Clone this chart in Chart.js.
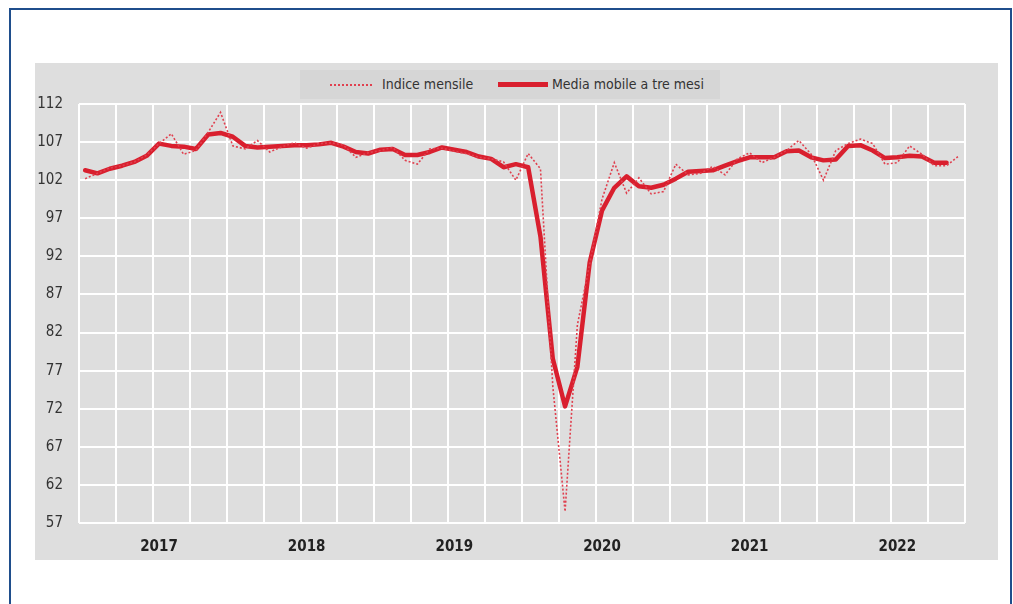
<!DOCTYPE html>
<html>
<head>
<meta charset="utf-8">
<script src="https://cdn.jsdelivr.net/npm/chart.js@4.4.1/dist/chart.umd.min.js"></script>
<style>
  html, body { margin: 0; padding: 0; background: #ffffff; width: 1013px; height: 604px; overflow: hidden; }
  #frame { position: absolute; left: 9px; top: 8px; width: 999px; height: 620px; border: 2px solid #1f4e8c; }
  #panel { position: absolute; left: 35px; top: 63px; width: 963px; height: 497px; background: #dedede; }
  #legend { position: absolute; left: 300px; top: 70px; width: 420px; height: 29px; background: #d6d6d6;
            font-family: 'DejaVu Sans Condensed', 'Liberation Sans', sans-serif;
            font-size: 14px; color: #333333; }
  .item { position: absolute; top: 0; height: 29px; line-height: 29px; white-space: nowrap; }
  .sample { position: absolute; }
</style>
</head>
<body>
<div id="frame"></div>
<div id="panel"><canvas id="c"></canvas></div>
<div id="legend">
  <div class="sample" style="left:30px; top:14px; width:42px; border-top:2px dotted #e0404f;"></div>
  <div class="item" style="left:82px;">Indice mensile</div>
  <div class="sample" style="left:198px; top:12px; width:50px; border-top:5px solid #d91f2e;"></div>
  <div class="item" style="left:252px;">Media mobile a tre mesi</div>
</div>
<script>
const years = ['2017', '2018', '2019', '2020', '2021', '2022'];
const months = ['01','02','03','04','05','06','07','08','09','10','11','12'];
const categories = [];
years.forEach(y => months.forEach(m => categories.push(y + '-' + m)));

const indiceMensile = [
  102.2, 102.9, 103.6, 103.9, 104.4, 105.3, 106.8, 108.1, 105.4, 105.9, 108.3, 110.9,
  106.5, 106.1, 107.2, 105.7, 106.4, 106.9, 106.2, 106.8, 106.9, 106.6, 105.0, 105.6,
  105.9, 106.3, 104.6, 104.1, 106.1, 106.2, 105.8, 105.5, 105.0, 104.8, 104.4, 102.0,
  105.5, 103.5, 75.0, 58.5, 83.0, 91.0, 99.5, 104.3, 100.3, 102.3, 100.2, 100.5,
  104.1, 102.7, 102.9, 103.8, 102.7, 104.8, 105.6, 104.3, 105.0, 105.9, 107.2, 105.4,
  102.0, 105.9, 106.8, 107.4, 106.8, 104.1, 104.3, 106.5, 105.4, 103.9, 103.9, 105.2
];

const mediaMobile = [
  103.3, 102.9, 103.5, 103.9, 104.4, 105.2, 106.8, 106.5, 106.4, 106.1, 108.0, 108.2,
  107.7, 106.5, 106.3, 106.4, 106.5, 106.6, 106.6, 106.7, 106.9, 106.4, 105.7, 105.5,
  106.0, 106.1, 105.3, 105.3, 105.7, 106.3, 106.0, 105.7, 105.1, 104.8, 103.7, 104.1,
  103.7, 94.6, 78.6, 72.3, 77.5, 91.2, 98.0, 101.0, 102.5, 101.2, 101.0, 101.4,
  102.2, 103.1, 103.2, 103.3, 103.9, 104.5, 105.0, 105.0, 105.0, 105.8, 105.9, 105.0,
  104.6, 104.7, 106.5, 106.6, 105.9, 104.9, 105.0, 105.2, 105.1, 104.3, 104.3, null
];

const yTicks = [57, 62, 67, 72, 77, 82, 87, 92, 97, 102, 107, 112];

const fontFam = "'DejaVu Sans Condensed', 'Liberation Sans', sans-serif";

new Chart(document.getElementById('c'), {
  type: 'line',
  data: {
    labels: categories,
    datasets: [
      {
        label: 'Indice mensile',
        data: indiceMensile,
        borderColor: '#e0404f',
        borderWidth: 1.6,
        borderDash: [2, 2],
        pointRadius: 0,
        tension: 0,
        fill: false
      },
      {
        label: 'Media mobile a tre mesi',
        data: mediaMobile,
        borderColor: '#d91f2e',
        borderWidth: 4.5,
        pointRadius: 0,
        tension: 0,
        fill: false,
        borderJoinStyle: 'round',
        borderCapStyle: 'round'
      }
    ]
  },
  options: {
    responsive: true,
    maintainAspectRatio: false,
    animation: false,
    layout: { padding: { left: 0, right: 33, top: 41, bottom: 0 } },
    plugins: { legend: { display: false }, tooltip: { enabled: false } },
    scales: {
      x: {
        type: 'category',
        offset: true,
        border: { display: false },
        grid: {
          offset: true,
          drawTicks: false,
          lineWidth: 2,
          color: (c) => (c.index === undefined || c.index % 3 === 0) ? '#ffffff' : 'rgba(0,0,0,0)'
        },
        ticks: {
          autoSkip: false,
          maxRotation: 0,
          minRotation: 0,
          padding: 15,
          color: '#222222',
          font: { family: fontFam, size: 15, weight: 'bold' },
          callback: function(value, index) {
            return index % 12 === 6 ? years[Math.floor(index / 12)] : '';
          }
        },
        afterFit: (s) => { s.height = 37; }
      },
      y: {
        min: yTicks[0],
        max: yTicks[yTicks.length - 1],
        border: { display: false },
        afterBuildTicks: (s) => { s.ticks = yTicks.map(v => ({ value: v })); },
        grid: { drawTicks: false, lineWidth: 2, color: '#ffffff' },
        ticks: {
          padding: 16,
          color: '#333333',
          font: { family: fontFam, size: 15 }
        },
        afterFit: (s) => { s.width = 44; }
      }
    }
  }
});
</script>
</body>
</html>
